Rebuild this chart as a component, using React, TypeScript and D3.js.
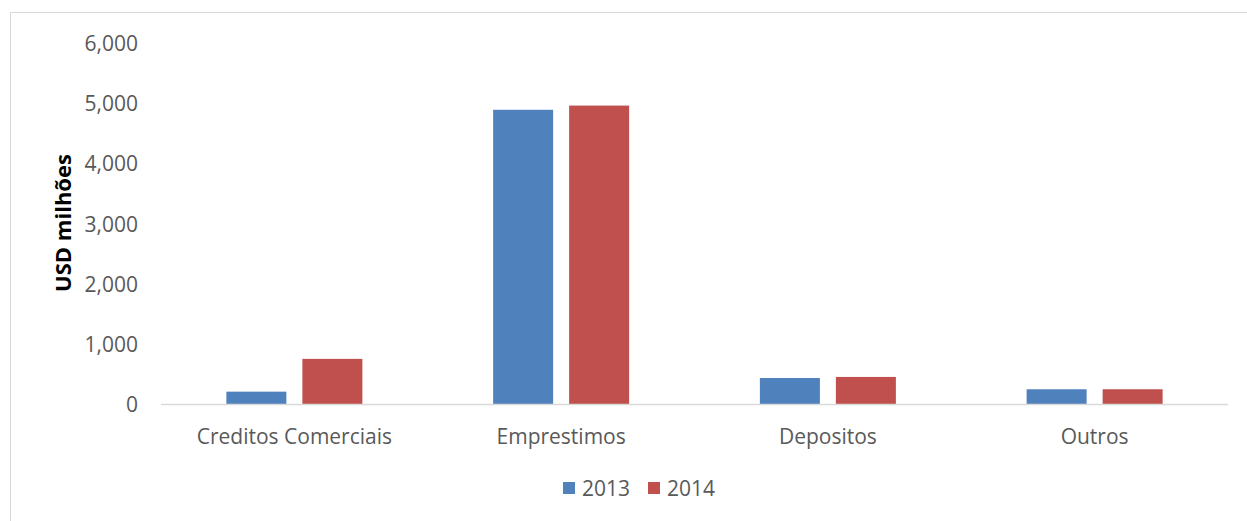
import React from "react";
import * as d3 from "d3";

const categories = ["Creditos Comerciais", "Emprestimos", "Depositos", "Outros"];
const seriesNames = ["2013", "2014"];
const values2013 = [205, 4890, 432, 245];
const values2014 = [750, 4960, 450, 245];
const yTicks = [0, 1000, 2000, 3000, 4000, 5000, 6000];
const colors = ["#4F81BD", "#C0504D"];

const W = 1247;
const H = 521;
const FONT = "'Open Sans', sans-serif";

export default function App() {
  const left = 161;
  const right = 1228;
  const top = 43;
  const bottom = 404;

  const x = d3.scaleBand<string>().domain(categories).range([left, right]).padding(0);
  const y = d3.scaleLinear().domain([0, 6000]).range([bottom, top]);
  const barW = 60;
  const gap = 16;
  const fmt = d3.format(",");
  const series = [values2013, values2014];

  return (
    <svg width={W} height={H} style={{ position: "absolute", left: 0, top: 0, background: "#fff" }}>
      <rect x={0} y={0} width={W} height={H} fill="#fff" />
      <path d={`M10.5,${H + 2} V12.5 H${W + 2}`} fill="none" stroke="#d9d9d9" strokeWidth={1} />

      {yTicks.map((t) => (
        <text key={t} x={138} y={y(t)} textAnchor="end" dominantBaseline="central"
          fontFamily={FONT} fontSize={21} fill="#595959">{fmt(t)}</text>
      ))}

      {categories.map((c, i) => {
        const cx = (x(c) as number) + x.bandwidth() / 2;
        return series.map((vals, s) => {
          const bx = s === 0 ? cx - gap / 2 - barW : cx + gap / 2;
          return (
            <rect key={c + s} x={bx} y={y(vals[i])} width={barW} height={y(0) - y(vals[i])}
              fill={colors[s]} />
          );
        });
      })}

      <line x1={left} x2={right} y1={bottom + 0.5} y2={bottom + 0.5} stroke="#d9d9d9" strokeWidth={1.5} />
      {categories.map((c) => (
        <text key={c} x={(x(c) as number) + x.bandwidth() / 2} y={436} textAnchor="middle"
          dominantBaseline="central" fontFamily={FONT} fontSize={21} fill="#595959">{c}</text>
      ))}

      <text transform={`translate(62,223) rotate(-90)`} textAnchor="middle" dominantBaseline="central"
        fontFamily={FONT} fontSize={22} fontWeight="bold" fill="#000">USD milhões</text>

      {seriesNames.map((n, s) => {
        const lx = 563 + s * 85;
        return (
          <g key={n}>
            <rect x={lx} y={482} width={12} height={12} fill={colors[s]} />
            <text x={lx + 19} y={488} dominantBaseline="central" fontFamily={FONT} fontSize={21} fill="#595959">{n}</text>
          </g>
        );
      })}
    </svg>
  );
}
